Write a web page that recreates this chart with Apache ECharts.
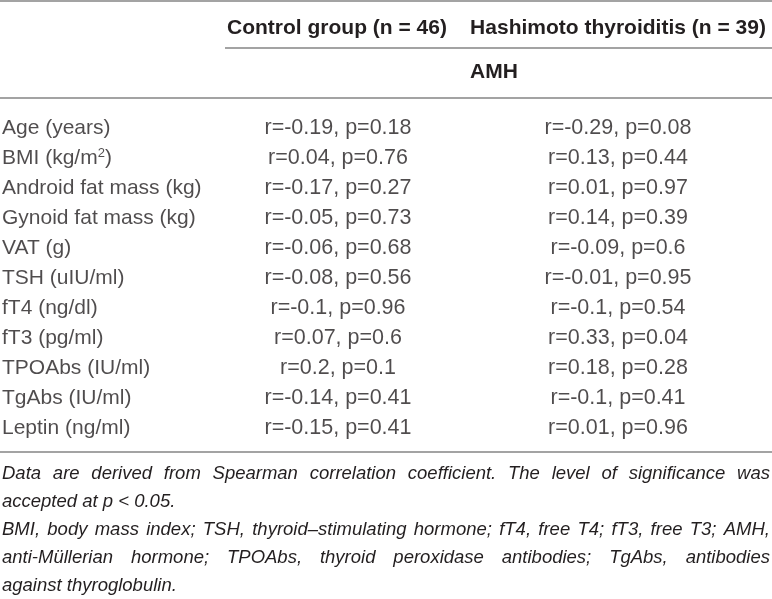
<!DOCTYPE html>
<html>
<head>
<meta charset="utf-8">
<script src="https://cdn.jsdelivr.net/npm/echarts@6.0.0/dist/echarts.min.js"></script>
<style>
html,body{margin:0;padding:0;background:#fff;}
#chart{width:772px;height:599px;}
</style>
</head>
<body>
<div id="chart"></div>
<script>
// ---- Data ----
const rowLabels = ['Age (years)', 'BMI (kg/m²)', 'Android fat mass (kg)', 'Gynoid fat mass (kg)', 'VAT (g)',
  'TSH (uIU/ml)', 'fT4 (ng/dl)', 'fT3 (pg/ml)', 'TPOAbs (IU/ml)', 'TgAbs (IU/ml)', 'Leptin (ng/ml)'];
const controlR = [-0.19, 0.04, -0.17, -0.05, -0.06, -0.08, -0.1, 0.07, 0.2, -0.14, -0.15];
const controlP = [0.18, 0.76, 0.27, 0.73, 0.68, 0.56, 0.96, 0.6, 0.1, 0.41, 0.41];
const hashR = [-0.29, 0.13, 0.01, 0.14, -0.09, -0.01, -0.1, 0.33, 0.18, -0.1, 0.01];
const hashP = [0.08, 0.44, 0.97, 0.39, 0.6, 0.95, 0.54, 0.04, 0.28, 0.41, 0.96];
const columnHeaders = ['Control group (n = 46)', 'Hashimoto thyroiditis (n = 39)'];
const subHeader = 'AMH';
const footnotes = [
  'Data are derived from Spearman correlation coefficient. The level of significance was',
  'accepted at p < 0.05.',
  'BMI, body mass index; TSH, thyroid\u2013stimulating hormone; fT4, free T4; fT3, free T3; AMH,',
  'anti-M\u00fcllerian hormone; TPOAbs, thyroid peroxidase antibodies; TgAbs, antibodies',
  'against thyroglobulin.'
];
const justified = [true, false, true, true, false];

// ---- Layout ----
const W = 772;
const FONT = '"Liberation Sans", Arial, Helvetica, sans-serif';
const TXT = '#231f20';
const LINE = '#a3a3a3';
const colLabelX = 2, colCtrlX = 338, colHashX = 618;

const cell = (r, p) => 'r=' + r + ', p=' + p;

const chart = echarts.init(document.getElementById('chart'), null, {renderer: 'canvas'});

// measure text for justified footnotes
const cv = document.createElement('canvas').getContext('2d');
const fnSize = 18.5;
cv.font = 'italic ' + fnSize + 'px "Liberation Sans"';
const fnY0 = 474, fnStep = 28, fnLeft = 2, fnRight = 770;
const fnGraphics = [];
footnotes.forEach((line, li) => {
  const y = fnY0 + li * fnStep;
  if (!justified[li]) {
    fnGraphics.push({type: 'text', x: fnLeft, y: y, style: {text: line, font: 'italic ' + fnSize + 'px ' + FONT, fill: TXT, verticalAlign: 'middle', align: 'left'}});
    return;
  }
  const words = line.split(' ');
  const widths = words.map(w => cv.measureText(w).width);
  const total = widths.reduce((a, b) => a + b, 0);
  const gap = (fnRight - fnLeft - total) / (words.length - 1);
  let x = fnLeft;
  words.forEach((w, wi) => {
    fnGraphics.push({type: 'text', x: x, y: y, style: {text: w, font: 'italic ' + fnSize + 'px ' + FONT, fill: TXT, verticalAlign: 'middle', align: 'left'}});
    x += widths[wi] + gap;
  });
});

const hline = (y, x1, x2) => ({type: 'line', shape: {x1: x1, y1: y, x2: x2, y2: y}, style: {stroke: LINE, lineWidth: 2}});

const labelBase = {show: true, fontFamily: FONT, color: TXT, verticalAlign: 'middle'};

const option = {
  backgroundColor: '#fff',
  animation: false,
  grid: {left: 0, right: 0, top: 113, height: 330},
  xAxis: {type: 'value', min: 0, max: W, show: false},
  yAxis: {type: 'category', data: rowLabels, inverse: true, show: false},
  series: [
    {
      type: 'scatter', symbolSize: 0,
      data: rowLabels.map(l => [colLabelX, l]),
      label: Object.assign({}, labelBase, {
        position: 'inside', align: 'left', fontSize: 21,
        formatter: p => p.value[1].replace('²', '{sup|2}'),
        rich: {sup: {fontSize: 13, fontFamily: FONT, color: TXT, padding: [0, 0, 10, 0]}}
      })
    },
    {
      type: 'scatter', symbolSize: 0,
      data: rowLabels.map((l, i) => [colCtrlX, l, cell(controlR[i], controlP[i])]),
      label: Object.assign({}, labelBase, {position: 'inside', align: 'center', fontSize: 21.5, formatter: p => p.value[2]})
    },
    {
      type: 'scatter', symbolSize: 0,
      data: rowLabels.map((l, i) => [colHashX, l, cell(hashR[i], hashP[i])]),
      label: Object.assign({}, labelBase, {position: 'inside', align: 'center', fontSize: 21.5, formatter: p => p.value[2]})
    }
  ],
  graphic: [
    hline(1, 0, W),
    hline(48, 225, W),
    hline(98, 0, W),
    hline(452, 0, W),
    {type: 'text', x: 337, y: 28, style: {text: columnHeaders[0], font: 'bold 21px ' + FONT, fill: TXT, align: 'center', verticalAlign: 'middle'}},
    {type: 'text', x: 618, y: 28, style: {text: columnHeaders[1], font: 'bold 21px ' + FONT, fill: TXT, align: 'center', verticalAlign: 'middle'}},
    {type: 'text', x: 470, y: 72, style: {text: subHeader, font: 'bold 21px ' + FONT, fill: TXT, align: 'left', verticalAlign: 'middle'}}
  ].concat(fnGraphics)
};
chart.setOption(option);
</script>
</body>
</html>
